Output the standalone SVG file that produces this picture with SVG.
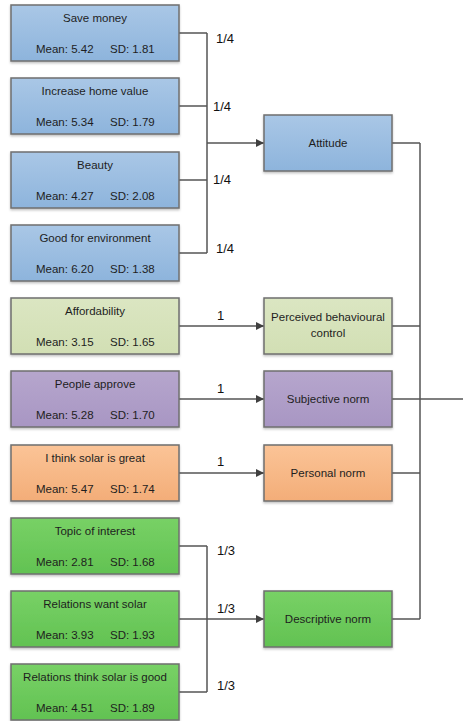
<svg xmlns="http://www.w3.org/2000/svg" width="463" height="721" viewBox="0 0 463 721">
  <defs>
    <linearGradient id="gBlue" x1="0" y1="0" x2="0" y2="1">
      <stop offset="0" stop-color="#a9c7e6"/>
      <stop offset="1" stop-color="#8db4dc"/>
    </linearGradient>
    <linearGradient id="gOlive" x1="0" y1="0" x2="0" y2="1">
      <stop offset="0" stop-color="#dbe6c2"/>
      <stop offset="1" stop-color="#d2dfb4"/>
    </linearGradient>
    <linearGradient id="gPurple" x1="0" y1="0" x2="0" y2="1">
      <stop offset="0" stop-color="#b6a6cd"/>
      <stop offset="1" stop-color="#a896c3"/>
    </linearGradient>
    <linearGradient id="gOrange" x1="0" y1="0" x2="0" y2="1">
      <stop offset="0" stop-color="#fbc497"/>
      <stop offset="1" stop-color="#f3ad78"/>
    </linearGradient>
    <linearGradient id="gGreen" x1="0" y1="0" x2="0" y2="1">
      <stop offset="0" stop-color="#78d166"/>
      <stop offset="1" stop-color="#62c252"/>
    </linearGradient>
    <filter id="shadow" x="-10%" y="-10%" width="120%" height="130%">
      <feDropShadow dx="0" dy="1.5" stdDeviation="1.2" flood-color="#000" flood-opacity="0.25"/>
    </filter>
    <marker id="arrow" viewBox="0 0 10 10" refX="10" refY="5" markerWidth="8" markerHeight="8" markerUnits="userSpaceOnUse" orient="auto">
      <path d="M0,0 L10,5 L0,10 z" fill="#404040"/>
    </marker>
  </defs>
  <style>
    .box { stroke: #6f6f6f; stroke-width: 1.5; filter: url(#shadow); }
    .blue { fill: url(#gBlue); }
    .olive { fill: url(#gOlive); }
    .purple { fill: url(#gPurple); }
    .orange { fill: url(#gOrange); }
    .green { fill: url(#gGreen); }
    text { font-family: "Liberation Sans", Arial, sans-serif; font-size: 11.5px; fill: #1e1e1e; }
    .t { text-anchor: middle; }
    .lbl { font-size: 13px; fill: #111; }
    .c { fill: none; stroke: #555; stroke-width: 1.5; }
  </style>

  <!-- connectors -->
  <g id="connectors">
    <!-- attitude inputs -->
    <path class="c" d="M179,33 H207 M179,106 H207 M179,180 H207 M179,253 H207 M207,33 V253"/>
    <path class="c" d="M207,143 H264" marker-end="url(#arrow)"/>
    <!-- single inputs -->
    <path class="c" d="M179,326 H264" marker-end="url(#arrow)"/>
    <path class="c" d="M179,399 H264" marker-end="url(#arrow)"/>
    <path class="c" d="M179,473 H264" marker-end="url(#arrow)"/>
    <!-- descriptive norm inputs -->
    <path class="c" d="M179,546 H207 M179,692 H207 M207,546 V692"/>
    <path class="c" d="M179,619 H264" marker-end="url(#arrow)"/>
    <!-- outputs collected on the right -->
    <path class="c" d="M392,143 H420 M392,326 H420 M392,473 H420 M392,619 H420 M420,143 V619"/>
    <path class="c" d="M392,399 H463"/>
    <!-- weights -->
    <text class="lbl" x="216" y="43">1/4</text>
    <text class="lbl" x="213" y="111">1/4</text>
    <text class="lbl" x="213" y="184">1/4</text>
    <text class="lbl" x="216" y="253">1/4</text>
    <text class="lbl" x="217" y="320">1</text>
    <text class="lbl" x="217" y="393">1</text>
    <text class="lbl" x="217" y="466">1</text>
    <text class="lbl" x="217" y="555">1/3</text>
    <text class="lbl" x="217" y="613">1/3</text>
    <text class="lbl" x="217" y="690">1/3</text>
  </g>

  <!-- indicator nodes -->
  <g id="save-money">
    <rect class="box blue" x="11" y="5" width="168" height="56"/>
    <text class="t" x="95" y="22">Save money</text>
    <text x="36" y="53">Mean: 5.42</text><text x="110" y="53">SD: 1.81</text>
  </g>
  <g id="increase-home-value">
    <rect class="box blue" x="11" y="78" width="168" height="56"/>
    <text class="t" x="95" y="95">Increase home value</text>
    <text x="36" y="126">Mean: 5.34</text><text x="110" y="126">SD: 1.79</text>
  </g>
  <g id="beauty">
    <rect class="box blue" x="11" y="152" width="168" height="56"/>
    <text class="t" x="95" y="169">Beauty</text>
    <text x="36" y="200">Mean: 4.27</text><text x="110" y="200">SD: 2.08</text>
  </g>
  <g id="good-for-environment">
    <rect class="box blue" x="11" y="225" width="168" height="56"/>
    <text class="t" x="95" y="242">Good for environment</text>
    <text x="36" y="273">Mean: 6.20</text><text x="110" y="273">SD: 1.38</text>
  </g>
  <g id="affordability">
    <rect class="box olive" x="11" y="298" width="168" height="56"/>
    <text class="t" x="95" y="315">Affordability</text>
    <text x="36" y="346">Mean: 3.15</text><text x="110" y="346">SD: 1.65</text>
  </g>
  <g id="people-approve">
    <rect class="box purple" x="11" y="371" width="168" height="56"/>
    <text class="t" x="95" y="388">People approve</text>
    <text x="36" y="419">Mean: 5.28</text><text x="110" y="419">SD: 1.70</text>
  </g>
  <g id="solar-is-great">
    <rect class="box orange" x="11" y="445" width="168" height="56"/>
    <text class="t" x="95" y="462">I think solar is great</text>
    <text x="36" y="493">Mean: 5.47</text><text x="110" y="493">SD: 1.74</text>
  </g>
  <g id="topic-of-interest">
    <rect class="box green" x="11" y="518" width="168" height="56"/>
    <text class="t" x="95" y="535">Topic of interest</text>
    <text x="36" y="566">Mean: 2.81</text><text x="110" y="566">SD: 1.68</text>
  </g>
  <g id="relations-want-solar">
    <rect class="box green" x="11" y="591" width="168" height="56"/>
    <text class="t" x="95" y="608">Relations want solar</text>
    <text x="36" y="639">Mean: 3.93</text><text x="110" y="639">SD: 1.93</text>
  </g>
  <g id="relations-think-good">
    <rect class="box green" x="11" y="664" width="168" height="56"/>
    <text class="t" x="95" y="681">Relations think solar is good</text>
    <text x="36" y="712">Mean: 4.51</text><text x="110" y="712">SD: 1.89</text>
  </g>

  <!-- construct nodes -->
  <g id="attitude">
    <rect class="box blue" x="264" y="115" width="128" height="56"/>
    <text class="t" x="328" y="147">Attitude</text>
  </g>
  <g id="perceived-control">
    <rect class="box olive" x="264" y="298" width="128" height="56"/>
    <text class="t" x="328" y="321">Perceived behavioural</text>
    <text class="t" x="328" y="337">control</text>
  </g>
  <g id="subjective-norm">
    <rect class="box purple" x="264" y="371" width="128" height="56"/>
    <text class="t" x="328" y="403">Subjective norm</text>
  </g>
  <g id="personal-norm">
    <rect class="box orange" x="264" y="445" width="128" height="56"/>
    <text class="t" x="328" y="477">Personal norm</text>
  </g>
  <g id="descriptive-norm">
    <rect class="box green" x="264" y="591" width="128" height="56"/>
    <text class="t" x="328" y="623">Descriptive norm</text>
  </g>
</svg>
